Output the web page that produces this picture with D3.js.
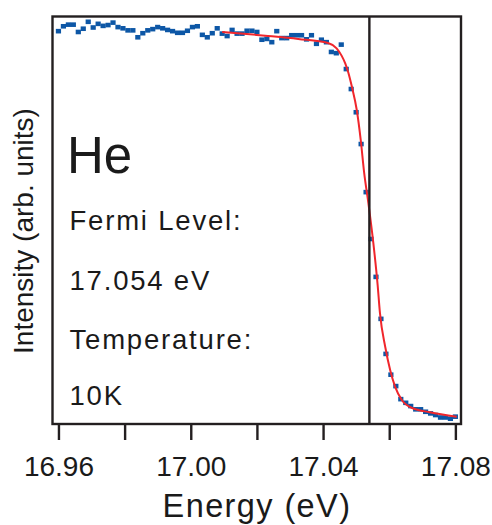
<!DOCTYPE html>
<html>
<head>
<meta charset="utf-8">
<script src="https://cdn.jsdelivr.net/npm/d3@7"></script>
<style>
	body { margin: 0; background: #fff; }
	text { font-family: "Liberation Sans", Arial, Helvetica, sans-serif; fill: #1a1a1a; }
</style>
</head>
<body>
<div id="chart"></div>
<script>

// Measured spectrum (He lamp), energy in eV, intensity in arbitrary units.
const energy = [
	16.9600, 16.9615, 16.9630, 16.9645, 16.9660, 16.9675, 16.9690, 16.9705, 16.9720, 16.9735,
	16.9750, 16.9765, 16.9780, 16.9795, 16.9810, 16.9825, 16.9840, 16.9855, 16.9870, 16.9885,
	16.9900, 16.9915, 16.9930, 16.9945, 16.9960, 16.9975, 16.9990, 17.0005, 17.0020, 17.0035,
	17.0050, 17.0065, 17.0080, 17.0095, 17.0110, 17.0125, 17.0140, 17.0155, 17.0170, 17.0185,
	17.0200, 17.0215, 17.0230, 17.0245, 17.0260, 17.0275, 17.0290, 17.0305, 17.0320, 17.0335,
	17.0350, 17.0365, 17.0380, 17.0395, 17.0410, 17.0425, 17.0440, 17.0455, 17.0470, 17.0485,
	17.0500, 17.0515, 17.0530, 17.0545, 17.0560, 17.0575, 17.0590, 17.0605, 17.0620, 17.0635,
	17.0650, 17.0665, 17.0680, 17.0695, 17.0710, 17.0725, 17.0740, 17.0755, 17.0770, 17.0785,
	17.0800
];

const intensity = [
	0.964, 0.976, 0.980, 0.980, 0.962, 0.970, 0.987, 0.973, 0.982, 0.977,
	0.979, 0.985, 0.974, 0.971, 0.966, 0.966, 0.949, 0.959, 0.966, 0.969,
	0.974, 0.971, 0.967, 0.964, 0.960, 0.960, 0.965, 0.974, 0.976, 0.955,
	0.949, 0.959, 0.971, 0.958, 0.952, 0.967, 0.958, 0.958, 0.965, 0.965,
	0.962, 0.943, 0.945, 0.937, 0.964, 0.947, 0.947, 0.954, 0.954, 0.954,
	0.944, 0.954, 0.933, 0.943, 0.937, 0.913, 0.910, 0.931, 0.871, 0.822,
	0.765, 0.687, 0.569, 0.454, 0.361, 0.258, 0.172, 0.121, 0.093, 0.061,
	0.052, 0.044, 0.036, 0.036, 0.030, 0.026, 0.022, 0.016, 0.016, 0.013,
	0.018
];

// Fermi edge fit.
const fitEnergy = [
	17.0095, 17.0225, 17.0325, 17.0415, 17.0441, 17.0456, 17.0467, 17.0476, 17.0487, 17.0502,
	17.0514, 17.0524, 17.0537, 17.0552, 17.0565, 17.0572, 17.0588, 17.0603, 17.0618, 17.0638,
	17.0673, 17.0723, 17.0804
];
const fitIntensity = [
	0.962, 0.953, 0.945, 0.935, 0.922, 0.904, 0.885, 0.863, 0.828, 0.770,
	0.696, 0.618, 0.542, 0.444, 0.341, 0.272, 0.189, 0.132, 0.091, 0.059,
	0.038, 0.029, 0.018
];

const fermiLevel = 17.054;
const xTicks = [16.96, 16.98, 17.00, 17.02, 17.04, 17.06, 17.08];
const xLabels = [16.96, 17.00, 17.04, 17.08];
const notes = ["Fermi Level:", "17.054 eV", "Temperature:", "10K"];

const svgWidth = 492;
const svgHeight = 525;
const margin = {top: 16.5, right: 31, bottom: 101, left: 52.5};
const width = svgWidth - margin.left - margin.right;
const height = svgHeight - margin.top - margin.bottom;

const ink = "#231f20";

const scales = {
	x: d3.scaleLinear().domain([16.9582, 17.0817]).range([0, width]),
	y: d3.scaleLinear().domain([0, 1]).range([height, 0])
};

const svg = d3.select("#chart").append("svg")
	.attr("width", svgWidth)
	.attr("height", svgHeight);

const gPlotArea = svg.append("g")
	.attr("class", "plot-area")
	.attr("transform", `translate(${margin.left},${margin.top})`);

// DATA POINTS
const points = d3.zip(energy, intensity);
gPlotArea.append("g").attr("class", "datum")
	.selectAll("rect")
	.data(points)
	.enter()
	.append("rect")
		.attr("x", d => scales.x(d[0]) - 2.6)
		.attr("y", d => scales.y(d[1]) - 2.3)
		.attr("width", 5.2)
		.attr("height", 4.6)
		.attr("fill", "#0d57a6");

// FIT
const line = d3.line()
	.x(d => scales.x(d[0]))
	.y(d => scales.y(d[1]))
	.curve(d3.curveMonotoneX);

gPlotArea.append("path")
	.attr("class", "fit")
	.attr("d", line(d3.zip(fitEnergy, fitIntensity)))
	.attr("fill", "none")
	.attr("stroke", "#f0262c")
	.attr("stroke-width", 2);

// Fermi level marker
gPlotArea.append("line")
	.attr("x1", scales.x(fermiLevel))
	.attr("x2", scales.x(fermiLevel))
	.attr("y1", 0)
	.attr("y2", height)
	.attr("stroke", ink)
	.attr("stroke-width", 2.4);

// FRAME
gPlotArea.append("rect")
	.attr("width", width)
	.attr("height", height)
	.attr("fill", "none")
	.attr("stroke", ink)
	.attr("stroke-width", 2.4);

// AXES
const xAxis = d3.axisBottom(scales.x)
	.tickValues(xTicks)
	.tickSize(16)
	.tickPadding(16)
	.tickFormat(d => xLabels.some(v => Math.abs(v - d) < 1e-6) ? d3.format(".2f")(d) : "");

const gX = gPlotArea.append("g")
	.attr("class", "axis-x")
	.attr("transform", `translate(0,${height})`)
	.call(xAxis);
gX.select(".domain").remove();
gX.selectAll(".tick line").attr("stroke", ink).attr("stroke-width", 2.4);
gX.selectAll(".tick text")
	.attr("fill", "#1a1a1a")
	.style("font-size", "28px");

svg.append("text")
	.attr("x", 257)
	.attr("y", 517)
	.attr("text-anchor", "middle")
	.style("font-size", "32.5px")
	.style("letter-spacing", "1.4px")
	.text("Energy (eV)");

svg.append("text")
	.attr("transform", "translate(33,231) rotate(-90)")
	.attr("text-anchor", "middle")
	.style("font-size", "28px")
	.text("Intensity (arb. units)");

// ANNOTATIONS
svg.append("text")
	.attr("x", 67)
	.attr("y", 173)
	.style("font-size", "51px")
	.text("He");

const noteY = [230, 289.5, 348.5, 405];
svg.selectAll("text.note")
	.data(notes)
	.enter()
	.append("text")
		.attr("class", "note")
		.attr("x", 69.5)
		.attr("y", (d, i) => noteY[i])
		.style("font-size", "27.5px")
		.style("letter-spacing", "1.8px")
		.text(d => d);

</script>
</body>
</html>
